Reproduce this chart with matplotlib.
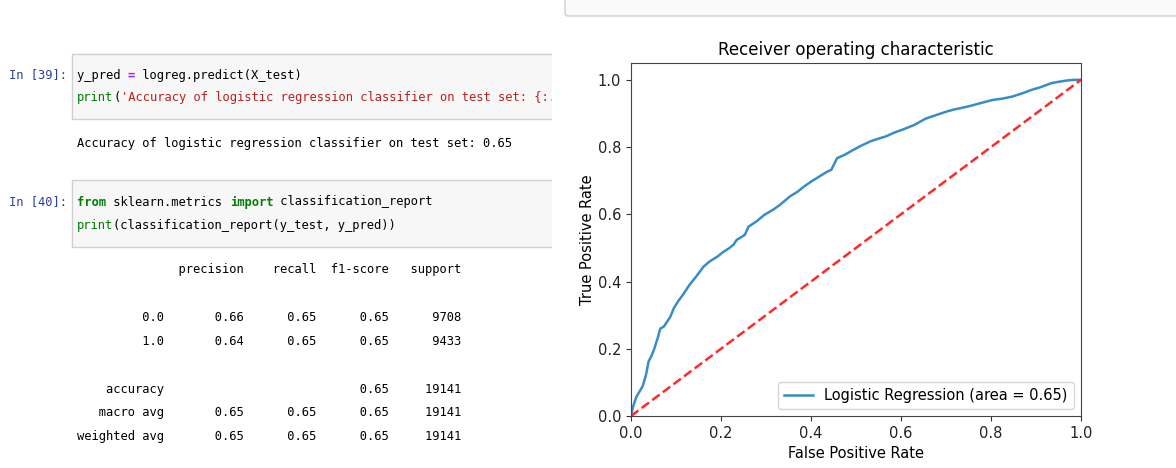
import numpy as np
import matplotlib.pyplot as plt
from matplotlib.patches import Rectangle, FancyBboxPatch

# ROC curve
fpr = [0.0, 0.005, 0.012, 0.02, 0.026, 0.033, 0.039, 0.046, 0.052, 0.06,
       0.065, 0.073, 0.08, 0.087, 0.095, 0.104, 0.115, 0.13, 0.145, 0.161,
       0.175, 0.192, 0.205, 0.218, 0.228, 0.235, 0.245, 0.253, 0.261, 0.28,
       0.296, 0.315, 0.331, 0.353, 0.37, 0.384, 0.40, 0.418, 0.435, 0.445,
       0.458, 0.475, 0.488, 0.51, 0.532, 0.55, 0.567, 0.585, 0.602, 0.63,
       0.654, 0.68, 0.70, 0.716, 0.75, 0.775, 0.803, 0.825, 0.847, 0.87,
       0.89, 0.91, 0.934, 0.95, 0.969, 0.985, 1.0]
tpr = [0.0, 0.03, 0.057, 0.075, 0.089, 0.12, 0.162, 0.18, 0.201, 0.235,
       0.26, 0.266, 0.28, 0.294, 0.32, 0.34, 0.36, 0.39, 0.415, 0.444,
       0.46, 0.474, 0.488, 0.499, 0.51, 0.524, 0.532, 0.539, 0.563, 0.58,
       0.598, 0.613, 0.628, 0.653, 0.667, 0.682, 0.697, 0.712, 0.726, 0.732,
       0.767, 0.777, 0.787, 0.803, 0.817, 0.825, 0.832, 0.843, 0.851, 0.866,
       0.884, 0.896, 0.905, 0.911, 0.921, 0.93, 0.940, 0.944, 0.950, 0.96,
       0.970, 0.978, 0.990, 0.994, 0.998, 1.0, 1.0]
roc_auc = 0.65

# classification report
class_names = ['0.0', '1.0']
precision = [0.66, 0.64]
recall = [0.65, 0.65]
f1 = [0.65, 0.65]
support = [9708, 9433]
accuracy = 0.65
avg_names = ['macro avg', 'weighted avg']
avg_precision = [0.65, 0.65]
avg_recall = [0.65, 0.65]
avg_f1 = [0.65, 0.65]
total = 19141

W, H = 1176, 468
fig = plt.figure(figsize=(W / 100, H / 100), dpi=100)

MONO = 'DejaVu Sans Mono'
FS = 8.7
CW = 0.602 * FS * 100 / 72  # char width in px

PROMPT = '#303F9F'
GREEN = '#008000'
RED = '#BA2121'
PURPLE = '#AA22FF'

# background axes in pixel coords (for the cell border at top right)
bg = fig.add_axes([0, 0, 1, 1], zorder=-1)
bg.set_xlim(0, W)
bg.set_ylim(H, 0)
bg.axis('off')
bg.add_patch(FancyBboxPatch((565, -20), 640, 36,
                            boxstyle='round,pad=0,rounding_size=3',
                            fc='#fafafa', ec='#cfcfcf', lw=1))

# left notebook screenshot
nb = fig.add_axes([0, 0, 552 / W, 1])
nb.set_xlim(0, 552)
nb.set_ylim(H, 0)
nb.axis('off')


def code_line(x, y, parts):
    n = 0
    for s, color, weight in parts:
        nb.text(x + n * CW, y, s, family=MONO, fontsize=FS, color=color,
                weight=weight, va='center', ha='left', clip_on=True)
        n += len(s)


# cell 39
nb.add_patch(Rectangle((72, 54), 600, 65, fc='#f7f7f7', ec='#cfcfcf', lw=1))
code_line(9, 75, [('In [39]:', PROMPT, 'normal')])
code_line(77, 75, [('y_pred ', 'black', 'normal'), ('=', PURPLE, 'bold'),
                   (' logreg.predict(X_test)', 'black', 'normal')])
code_line(77, 98, [('print', GREEN, 'normal'), ('(', 'black', 'normal'),
                   ("'Accuracy of logistic regression classifier on test set: {:.2f}'", RED, 'normal'),
                   ('.format(logreg.score(X_test, y_test)))', 'black', 'normal')])
code_line(77, 143, [('Accuracy of logistic regression classifier on test set: %.2f' % accuracy,
                     'black', 'normal')])

# cell 40
nb.add_patch(Rectangle((72, 180), 600, 67, fc='#f7f7f7', ec='#cfcfcf', lw=1))
code_line(9, 202, [('In [40]:', PROMPT, 'normal')])
code_line(77, 202, [('from', GREEN, 'bold'), (' sklearn.metrics ', 'black', 'normal'),
                    ('import', GREEN, 'bold'), (' classification_report', 'black', 'normal')])
code_line(77, 225, [('print', GREEN, 'normal'),
                    ('(classification_report(y_test, y_pred))', 'black', 'normal')])

# report text, sklearn layout
head_fmt = '{:>12s} ' + ' {:>9}' * 4
row_fmt = '{:>12s} ' + ' {:>9.2f}' * 3 + ' {:>9}'
lines = [head_fmt.format('', 'precision', 'recall', 'f1-score', 'support'), '']
for i in range(len(class_names)):
    lines.append(row_fmt.format(class_names[i], precision[i], recall[i], f1[i], support[i]))
lines.append('')
lines.append('{:>12s} '.format('accuracy') + ' {:>9}'.format('') * 2
             + ' {:>9.2f}'.format(accuracy) + ' {:>9}'.format(total))
for i in range(len(avg_names)):
    lines.append(row_fmt.format(avg_names[i], avg_precision[i], avg_recall[i], avg_f1[i], total))
for k, s in enumerate(lines):
    code_line(77, 270 + k * 23.8, [(s, 'black', 'normal')])

# ROC plot
ax = fig.add_axes([631 / W, 52 / H, 450 / W, 353 / H])
ax.plot(fpr, tpr, color='#3a8cc6', lw=1.8,
        label='Logistic Regression (area = %0.2f)' % roc_auc)
ax.plot([0, 1], [0, 1], color='#ff2a2a', ls='--', lw=1.8)
ax.set_xlim([0.0, 1.0])
ax.set_ylim([0.0, 1.05])
ax.set_xlabel('False Positive Rate', fontsize=10.5)
ax.set_ylabel('True Positive Rate', fontsize=10.5, labelpad=2)
ax.set_title('Receiver operating characteristic', fontsize=12)
ax.tick_params(labelsize=10.5, colors='#333333', labelcolor='#222222')
for sp in ax.spines.values():
    sp.set_color('#444444')
ax.legend(loc='lower right', fontsize=10.5)

plt.savefig('out.png', dpi=100)
